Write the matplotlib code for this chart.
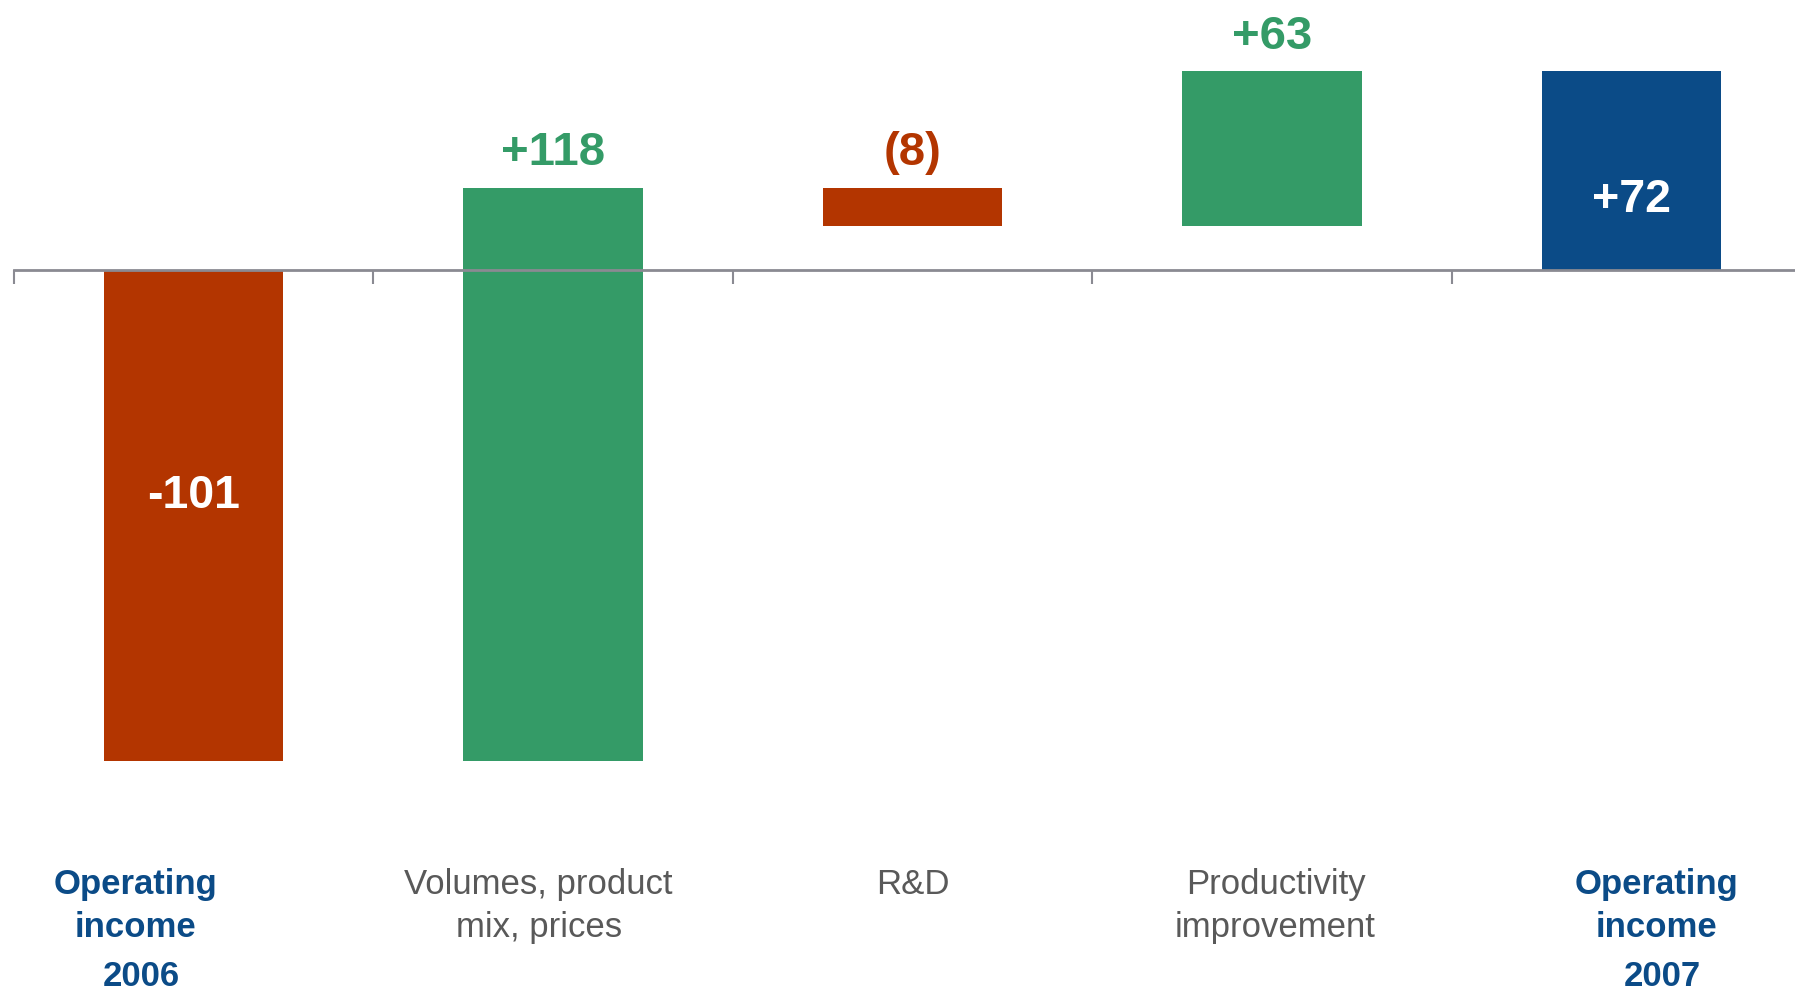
import numpy as np
import matplotlib
matplotlib.use("Agg")
import matplotlib.pyplot as plt
import matplotlib.transforms as mtransforms

plt.rcParams['font.family'] = ['Liberation Sans', 'DejaVu Sans']

# operating income bridge 2006 -> 2007
categories = ["Operating\nincome\n2006", "Volumes, product\nmix, prices", "R&D",
              "Productivity\nimprovement", "Operating\nincome\n2007"]
changes = [-101, 118, -8, 63]
total_2007 = 72
value_labels = ["-101", "+118", "(8)", "+63", "+72"]
is_total = [True, False, False, False, True]

RED = "#B33500"
GREEN = "#349B67"
NAVY = "#0B4B87"
GREY_TXT = "#595959"
AXIS_GREY = "#8A8A92"

# bar bottoms / heights for the waterfall
bottoms, heights, colors = [], [], []
running = 0
for i, v in enumerate(changes):
    if i == 0:
        bottoms.append(0)
        heights.append(v)
        running = v
    else:
        bottoms.append(running)
        heights.append(v)
        running += v
    colors.append(GREEN if v > 0 else RED)
bottoms.append(0)
heights.append(total_2007)
colors.append(NAVY)

fig = plt.figure(figsize=(17.95, 9.89), dpi=100)
W, H = 1795, 989
# axes extends past the right edge, as the baseline runs off the slide
ax = fig.add_axes([13.7 / W, 1 - 761 / H, 1797.5 / W, (761 - 71) / H])
x = np.arange(len(categories))
ax.bar(x, heights, bottom=bottoms, width=0.5, color=colors, zorder=2)
ax.set_xlim(-0.5, 4.5)
ax.set_ylim(-101, 41)

for s in ['top', 'right', 'left']:
    ax.spines[s].set_visible(False)
ax.spines['bottom'].set_position(('data', 0))
ax.spines['bottom'].set_color(AXIS_GREY)
ax.spines['bottom'].set_linewidth(2)
ax.spines['bottom'].set_zorder(3)
ax.set_yticks([])
ax.set_xticks(np.arange(-0.5, 4.5, 1.0))
ax.tick_params(axis='x', direction='out', length=10, width=1.5, color=AXIS_GREY,
               labelbottom=False)

ytop = ax.get_ylim()[1]
inside_y = {0: -49, 4: 12}
for i, lab in enumerate(value_labels):
    top = max(bottoms[i], bottoms[i] + heights[i])
    if is_total[i]:
        ax.text(x[i], inside_y[i], lab, ha='center', va='baseline', color='white',
                fontsize=33.5, fontweight='bold', zorder=4)
    else:
        ax.annotate(lab, (x[i], min(top, ytop)), xytext=(0, 16), textcoords='offset points',
                    ha='center', va='baseline', color=colors[i], fontsize=34,
                    fontweight='bold', annotation_clip=False)

# category labels below the chart
trans = mtransforms.blended_transform_factory(ax.transData, fig.transFigure)
line_y = [1 - 884.5 / H, 1 - 927.5 / H, 1 - 976.5 / H]
x_shift = [-0.16, -0.04, 0.0, 0.01, 0.07]
for i, cat in enumerate(categories):
    lines = cat.split("\n")
    for j, line in enumerate(lines):
        # the year line sits a touch to the right in the total labels
        dx = 0.015 if (is_total[i] and j == 2) else 0.0
        ax.text(x[i] + x_shift[i] + dx, line_y[j], line, transform=trans, ha='center',
                va='center', fontsize=25, color=NAVY if is_total[i] else GREY_TXT,
                fontweight='bold' if is_total[i] else 'normal', clip_on=False)

fig.savefig("out.png", dpi=100, facecolor='white')
